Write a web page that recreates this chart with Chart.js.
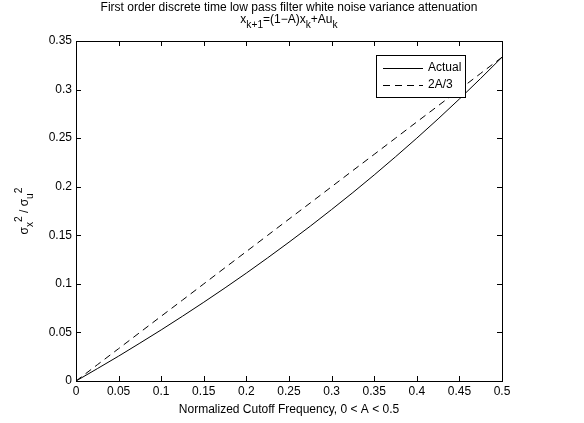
<!DOCTYPE html>
<html>
<head>
<meta charset="utf-8">
<script src="https://cdn.jsdelivr.net/npm/chart.js@4.4.1/dist/chart.umd.min.js"></script>
<style>
  html, body { margin: 0; padding: 0; background: #fff; }
  #wrap { width: 584px; height: 423px; }
</style>
</head>
<body>
<div id="wrap"><canvas id="c" width="584" height="423"></canvas></div>
<script>
// values
const cutoff   = [0, 0.025, 0.05, 0.075, 0.1, 0.125, 0.15, 0.175, 0.2, 0.225, 0.25,
                  0.275, 0.3, 0.325, 0.35, 0.375, 0.4, 0.425, 0.45, 0.475, 0.5];
const actual   = [0, 0.0127, 0.0256, 0.039, 0.0526, 0.0667, 0.0811, 0.0959, 0.1111, 0.1268, 0.1429,
                  0.1594, 0.1765, 0.194, 0.2121, 0.2308, 0.25, 0.2698, 0.2903, 0.3115, 0.3333];
const approx   = [0, 0.0167, 0.0333, 0.05, 0.0667, 0.0833, 0.1, 0.1167, 0.1333, 0.15, 0.1667,
                  0.1833, 0.2, 0.2167, 0.2333, 0.25, 0.2667, 0.2833, 0.3, 0.3167, 0.3333];
const xTicks   = [0, 0.05, 0.1, 0.15, 0.2, 0.25, 0.3, 0.35, 0.4, 0.45, 0.5];
const yTicks   = [0, 0.05, 0.1, 0.15, 0.2, 0.25, 0.3, 0.35];
const seriesNames = ["Actual", "2A/3"];

const FONT = "'Liberation Sans', Arial, sans-serif";
const pts = ys => cutoff.map((x, i) => ({ x, y: ys[i] }));

// text with sub/superscripts: parts = [[text, shift]] shift -1 sub, +1 sup
function richText(ctx, parts, x, y, size, align) {
  const small = size * 0.85;
  let w = 0;
  parts.forEach(([t, s]) => { ctx.font = `${s ? small : size}px ${FONT}`; w += ctx.measureText(t).width; });
  let cx = align === "center" ? x - w / 2 : x;
  parts.forEach(([t, s]) => {
    ctx.font = `${s ? small : size}px ${FONT}`;
    ctx.fillText(t, cx, y + (s === -1 ? size * 0.45 : s === 1 ? -size * 0.5 : 0));
    cx += ctx.measureText(t).width;
  });
}

const matlabLook = {
  id: "matlabLook",
  afterDraw(chart) {
    const { ctx, chartArea: a, scales: { x, y } } = chart;
    ctx.save();
    ctx.strokeStyle = "#000";
    ctx.lineWidth = 1;
    // inward ticks on all sides
    ctx.beginPath();
    xTicks.forEach(v => {
      const px = Math.round(x.getPixelForValue(v)) + 0.5;
      ctx.moveTo(px, a.bottom); ctx.lineTo(px, a.bottom - 5);
      ctx.moveTo(px, a.top); ctx.lineTo(px, a.top + 5);
    });
    yTicks.forEach(v => {
      const py = Math.round(y.getPixelForValue(v)) + 0.5;
      ctx.moveTo(a.left, py); ctx.lineTo(a.left + 5, py);
      ctx.moveTo(a.right, py); ctx.lineTo(a.right - 5, py);
    });
    ctx.stroke();
    ctx.strokeRect(Math.round(a.left) + 0.5, Math.round(a.top) + 0.5,
                   Math.round(a.right - a.left), Math.round(a.bottom - a.top));

    // title
    ctx.fillStyle = "#000";
    ctx.textBaseline = "middle";
    ctx.textAlign = "center";
    ctx.font = `12px ${FONT}`;
    ctx.fillText("First order discrete time low pass filter white noise variance attenuation", (a.left + a.right) / 2, 8);
    ctx.textAlign = "left";
    richText(ctx, [["x", 0], ["k+1", -1], ["=(1\u2212A)x", 0], ["k", -1], ["+Au", 0], ["k", -1]],
             (a.left + a.right) / 2, 20, 12, "center");

    // y axis title
    ctx.save();
    ctx.translate(25, (a.top + a.bottom) / 2);
    ctx.rotate(-Math.PI / 2);
    richText(ctx, [["\u03c3", 0], ["x", -1], ["2", 1], [" / \u03c3", 0], ["u", -1], ["2", 1]], 0, 0, 12, "center");
    ctx.restore();

    // legend
    const lx = 376, ly = 55, lw = 89, lh = 42;
    ctx.fillStyle = "#fff";
    ctx.fillRect(lx, ly, lw, lh);
    ctx.strokeRect(lx + 0.5, ly + 0.5, lw, lh);
    chart.data.datasets.forEach((ds, i) => {
      const yy = ly + 13 + i * 17;
      ctx.beginPath();
      ctx.setLineDash(ds.borderDash || []);
      ctx.moveTo(lx + 7, yy + 0.5); ctx.lineTo(lx + 47, yy + 0.5);
      ctx.stroke();
      ctx.setLineDash([]);
      ctx.fillStyle = "#000";
      ctx.font = `12px ${FONT}`;
      ctx.textAlign = "left";
      ctx.fillText(ds.label, lx + 52, yy);
    });
    ctx.restore();
  }
};

new Chart(document.getElementById("c"), {
  type: "scatter",
  data: {
    datasets: [
      { label: seriesNames[0], data: pts(actual), showLine: true, borderColor: "#000", borderWidth: 1, pointRadius: 0, tension: 0 },
      { label: seriesNames[1], data: pts(approx), showLine: true, borderColor: "#000", borderWidth: 1, borderDash: [7, 5], pointRadius: 0, tension: 0 }
    ]
  },
  options: {
    responsive: false,
    animation: false,
    layout: { padding: { top: 41, right: 82, left: 0, bottom: 6 } },
    plugins: { legend: { display: false }, tooltip: { enabled: false } },
    scales: {
      x: {
        type: "linear", min: 0, max: 0.5,
        afterBuildTicks: s => { s.ticks = xTicks.map(v => ({ value: v })); },
        afterFit: s => { s.height = 36; },
        grid: { display: false, drawTicks: false },
        border: { display: false },
        ticks: { color: "#000", padding: 3, font: { family: FONT, size: 12 }, maxRotation: 0, callback: v => String(v) },
        title: { display: true, text: "Normalized Cutoff Frequency, 0 < A < 0.5", color: "#000", font: { family: FONT, size: 12 }, padding: { top: 0, bottom: 0 } }
      },
      y: {
        type: "linear", min: 0, max: 0.35,
        afterBuildTicks: s => { s.ticks = yTicks.map(v => ({ value: v })); },
        afterFit: s => { s.width = 76; },
        grid: { display: false, drawTicks: false },
        border: { display: false },
        ticks: { color: "#000", padding: 4, font: { family: FONT, size: 12 }, callback: v => String(v) }
      }
    }
  },
  plugins: [matlabLook]
});
</script>
</body>
</html>
